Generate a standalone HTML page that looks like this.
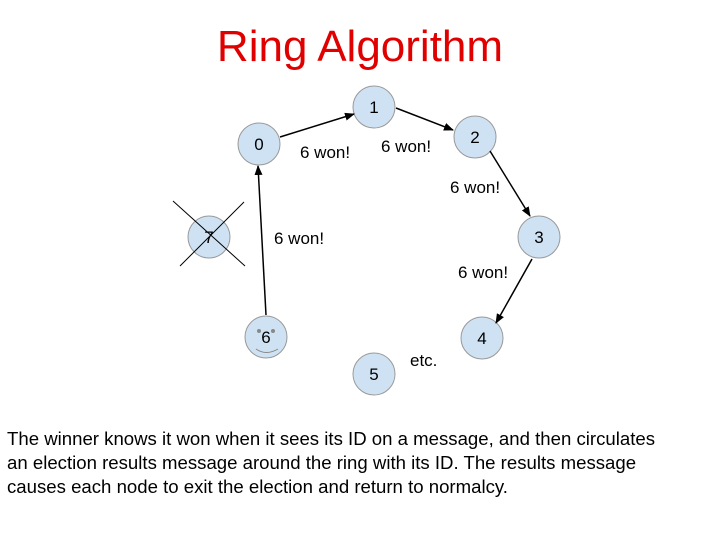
<!DOCTYPE html>
<html><head><style>
body{margin:0;width:720px;height:540px;background:#fff;overflow:hidden;font-family:"Liberation Sans",sans-serif}
.t{position:absolute;left:0;width:720px;text-align:center;top:22px;font-size:44px;color:#e00000}
.p{position:absolute;left:7px;top:427px;font-size:18.6px;line-height:24px;color:#000;width:705px}
</style></head><body>
<div class="t">Ring Algorithm</div>
<svg width="720" height="540" style="position:absolute;left:0;top:0" font-family="Liberation Sans, sans-serif">
<defs><marker id="a" markerWidth="10" markerHeight="8" refX="9" refY="4" orient="auto" markerUnits="userSpaceOnUse"><path d="M0,0 L10,4 L0,8z" fill="#000"/></marker></defs>
<g fill="#cfe2f3" stroke="#999" stroke-width="1">
<circle cx="259" cy="144" r="21"/><circle cx="374" cy="107" r="21"/><circle cx="475" cy="137" r="21"/>
<circle cx="539" cy="237" r="21"/><circle cx="482" cy="338" r="21"/><circle cx="374" cy="374" r="21"/>
<circle cx="266" cy="337" r="21"/><circle cx="209" cy="237" r="21"/></g>
<g font-size="17" text-anchor="middle" fill="#000">
<text x="259" y="150">0</text><text x="374" y="113">1</text><text x="475" y="143">2</text>
<text x="539" y="243">3</text><text x="482" y="344">4</text><text x="374" y="380">5</text>
<text x="266" y="343">6</text><text x="209" y="243">7</text></g>
<g fill="#888"><circle cx="259" cy="331" r="2"/><circle cx="273" cy="331" r="2"/></g>
<path d="M256,349 Q266,356 278,349" fill="none" stroke="#888"/>
<g stroke="#000" stroke-width="1"><line x1="173" y1="201" x2="245" y2="266"/><line x1="244" y1="202" x2="180" y2="266"/></g>
<g stroke="#000" stroke-width="1.5" marker-end="url(#a)">
<line x1="280" y1="137" x2="354" y2="114"/><line x1="396" y1="108" x2="453" y2="130"/>
<line x1="490" y1="151" x2="530" y2="216"/><line x1="532" y1="259" x2="496" y2="323"/>
<line x1="266" y1="315" x2="258" y2="166"/></g>
<g font-size="17" fill="#000">
<text x="300" y="158">6 won!</text><text x="381" y="152">6 won!</text><text x="450" y="193">6 won!</text>
<text x="274" y="244">6 won!</text><text x="458" y="278">6 won!</text><text x="410" y="366">etc.</text></g>
</svg>
<div class="p">The winner knows it won when it sees its ID on a message, and then circulates<br>an election results message around the ring with its ID. The results message<br>causes each node to exit the election and return to normalcy.</div>
</body></html>
